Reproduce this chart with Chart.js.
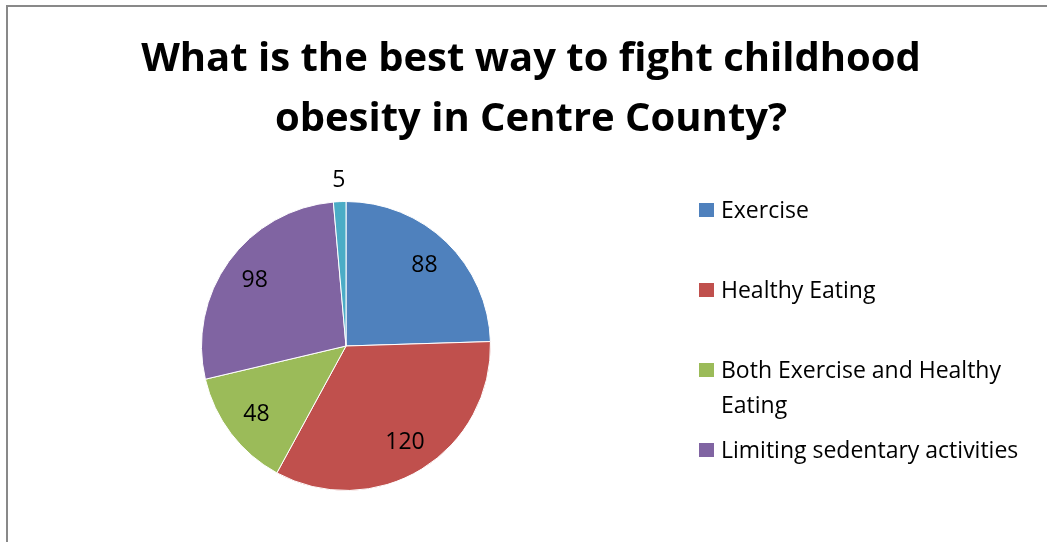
<!DOCTYPE html>
<html>
<head>
<meta charset="utf-8">
<title>Childhood obesity survey</title>
<script src="https://cdn.jsdelivr.net/npm/chart.js@4.4.1/dist/chart.umd.min.js"></script>
<style>
  html, body { margin: 0; padding: 0; background: #fff; overflow: hidden; }
  body { width: 1047px; height: 542px; position: relative; font-family: "Open Sans", sans-serif; }
  #frame {
    position: absolute; left: 6px; top: 5px; width: 1200px; height: 700px;
    border-left: 2px solid #898989; border-top: 2px solid #898989;
  }
  #chartBox { position: absolute; left: 0; top: 0; width: 1047px; height: 542px; }
  #chartTitle {
    position: absolute; left: 0; top: 26px; width: 1062px;
    text-align: center; font-weight: bold; font-size: 40px; line-height: 60px; color: #000;
  }
  #legend { position: absolute; left: 699px; top: 192px; margin: 0; padding: 0; list-style: none; }
  #legend li { position: relative; height: 80px; }
  #legend .swatch { position: absolute; left: 0; top: 11px; width: 15px; height: 14px; }
  #legend .text { position: absolute; left: 22px; top: 0; width: 318px; font-size: 23px; line-height: 35px; color: #000; }
</style>
</head>
<body>
<div id="frame"></div>
<div id="chartBox"><canvas id="pieChart" width="1047" height="542"></canvas></div>
<div id="chartTitle">What is the best way to fight childhood<br>obesity in Centre County?</div>
<ul id="legend"></ul>
<script>
const categories = ['Exercise', 'Healthy Eating', 'Both Exercise and Healthy Eating', 'Limiting sedentary activities', 'Other'];
const responses = [88, 120, 48, 98, 5];
const sliceColors = ['#4F81BD', '#C0504D', '#9BBB59', '#8064A2', '#4BACC6'];
const legendCount = 4; // the legend box only has room for the first four

const total = responses.reduce((a, b) => a + b, 0);

// value labels: inside the slice, small slices get pushed outside
const sliceLabels = {
  id: 'sliceLabels',
  afterDraw(chart) {
    const ctx = chart.ctx;
    const meta = chart.getDatasetMeta(0);
    ctx.save();
    ctx.font = '23px "Open Sans"';
    ctx.fillStyle = '#000';
    ctx.textAlign = 'center';
    ctx.textBaseline = 'middle';
    meta.data.forEach((arc, i) => {
      const p = arc.getProps(['x', 'y', 'startAngle', 'endAngle', 'outerRadius'], true);
      const mid = (p.startAngle + p.endAngle) / 2;
      const r = responses[i] / total < 0.03 ? p.outerRadius * 1.15 : p.outerRadius * 0.78;
      ctx.fillText(String(responses[i]), p.x + Math.cos(mid) * r, p.y + Math.sin(mid) * r);
    });
    ctx.restore();
  }
};

// legend built as html so long labels can wrap
const htmlLegend = {
  id: 'htmlLegend',
  afterUpdate(chart) {
    const ul = document.getElementById('legend');
    ul.innerHTML = '';
    const items = chart.options.plugins.legend.labels.generateLabels(chart).slice(0, legendCount);
    items.forEach(item => {
      const li = document.createElement('li');
      const box = document.createElement('span');
      box.className = 'swatch';
      box.style.background = item.fillStyle;
      const txt = document.createElement('span');
      txt.className = 'text';
      txt.textContent = item.text;
      li.appendChild(box);
      li.appendChild(txt);
      ul.appendChild(li);
    });
  }
};

new Chart(document.getElementById('pieChart'), {
  type: 'pie',
  data: {
    labels: categories,
    datasets: [{
      data: responses,
      backgroundColor: sliceColors,
      borderColor: '#ffffff',
      borderWidth: 1,
      hoverOffset: 0
    }]
  },
  options: {
    responsive: false,
    animation: false,
    layout: { padding: { left: 201, top: 201, right: 556, bottom: 51 } },
    plugins: {
      legend: { display: false },
      tooltip: { enabled: false }
    }
  },
  plugins: [sliceLabels, htmlLegend]
});
</script>
</body>
</html>
